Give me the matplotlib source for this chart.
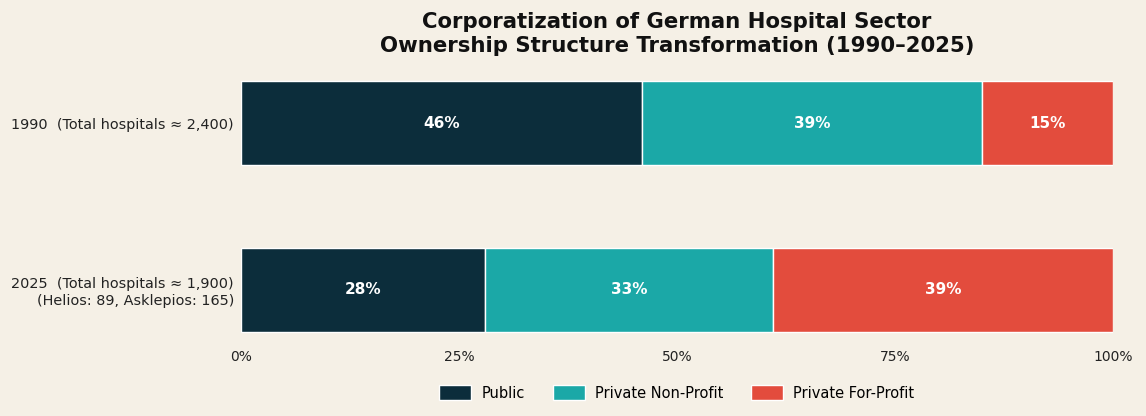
import matplotlib
matplotlib.use("Agg")
import matplotlib.pyplot as plt
import numpy as np

categories = ["1990  (Total hospitals ≈ 2,400)",
              "2025  (Total hospitals ≈ 1,900)\n(Helios: 89, Asklepios: 165)"]
series = ["Public", "Private Non-Profit", "Private For-Profit"]
public = [46, 28]
nonprofit = [39, 33]
forprofit = [15, 39]
colors = ["#0c2d3b", "#1ba8a7", "#e34c3d"]
xticks = [0, 25, 50, 75, 100]
xticklabels = ["0%", "25%", "50%", "75%", "100%"]

bg = "#f5f0e6"
fig = plt.figure(figsize=(11.46, 4.16), dpi=100, facecolor=bg)
ax = fig.add_axes([0.2103, 0.1827, 0.7609, 0.6418], facecolor=bg)

y = np.arange(len(categories))
left = np.zeros(len(categories))
for name, vals, c in zip(series, [public, nonprofit, forprofit], colors):
    ax.barh(y, vals, left=left, height=0.5, color=c, edgecolor="white",
            linewidth=1, label=name)
    for yi, v, l in zip(y, vals, left):
        ax.text(l + v / 2, yi, f"{v}%", ha="center", va="center",
                color="white", fontsize=11, fontweight="bold")
    left = left + np.array(vals)

ax.set_xlim(0, 100)
ax.set_ylim(1.3, -0.3)
ax.set_yticks(y)
ax.set_yticklabels(categories, fontsize=10.4, color="#222222")
ax.set_xticks(xticks)
ax.set_xticklabels(xticklabels, fontsize=10, color="#222222")
ax.tick_params(axis="x", length=0, pad=7)
ax.tick_params(axis="y", length=0, pad=5)
for s in ax.spines.values():
    s.set_visible(False)

ax.set_title("Corporatization of German Hospital Sector\nOwnership Structure Transformation (1990–2025)",
             fontsize=15.3, fontweight="bold", color="#111111", pad=15, linespacing=1.25)

ax.legend(loc="upper center", bbox_to_anchor=(0.5, -0.12), ncol=3, frameon=False,
          fontsize=10.5, handlelength=2.2, handleheight=1.2, handletextpad=0.7,
          columnspacing=1.9)

fig.savefig("out.png", dpi=100, facecolor=bg)
